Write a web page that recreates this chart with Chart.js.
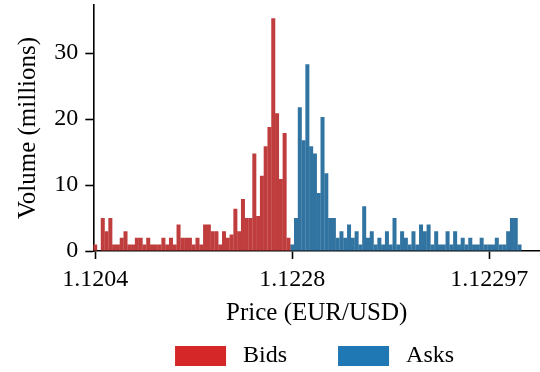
<!DOCTYPE html>
<html>
<head>
<meta charset="utf-8">
<script src="https://cdn.jsdelivr.net/npm/chart.js@4.4.1/dist/chart.umd.min.js"></script>
<style>
  html, body { margin: 0; padding: 0; background: #ffffff; }
  #wrap { width: 540px; height: 372px; }
</style>
</head>
<body>
<div id="wrap"><canvas id="book" width="540" height="372"></canvas></div>
<script>
// Resting order volume per price bin, in millions (bins ordered by price)
const bidVolumes = [
  1, 0, 5, 3, 5, 1, 1, 2, 3, 1,
  1, 2, 2, 1, 2, 1, 1, 1, 2, 1,
  2, 1, 4, 2, 2, 2, 1, 2, 1, 4,
  4, 3, 3, 1, 3, 2, 2.5, 6.4, 3, 7.9,
  5, 5, 14.8, 5.3, 11.4, 15.9, 18.8, 35.3, 20.9, 10.9,
  17.9, 2
];
const askVolumes = [
  1, 5, 21.8, 16.8, 28.3, 15.9, 14.8, 8.8, 20.3, 11.8,
  5, 5, 2, 3, 2, 4, 2, 3, 1, 6.8,
  2, 3, 1, 2, 1, 3, 1, 5, 1, 3,
  2, 1, 3, 1, 4, 3, 4, 1, 3, 1,
  1, 3, 1, 3, 1, 2, 1, 2, 1, 1,
  2, 1, 1, 1, 2, 1, 1, 3, 5, 5,
  1
];
// Price labels shown under selected bins
const tickBins = [0, 52, 104];
const tickLabels = ['1.1204', '1.1228', '1.12297'];
const yTicks = [0, 10, 20, 30];
const seriesNames = ['Bids', 'Asks'];

const barColors = ['#c03d3e', '#3274a1'];
const patchColors = ['#d62728', '#1f77b4'];
const FONT = "'Liberation Serif', 'Times New Roman', serif";

Chart.defaults.font.family = FONT;
Chart.defaults.font.size = 24;
Chart.defaults.color = '#000';

const bidPoints = bidVolumes.map((v, i) => ({ x: i, y: v }));
const askPoints = askVolumes.map((v, i) => ({ x: bidVolumes.length + i, y: v }));

// Legend drawn below the axis title: coloured patch followed by the series name
const bottomLegend = {
  id: 'bottomLegend',
  afterDraw(chart) {
    const { ctx, chartArea } = chart;
    const cx = (chartArea.left + chartArea.right) / 2;
    const cy = chartArea.bottom + 105;
    const slots = [
      { box: cx - 141.6, text: cx - 73.6 },
      { box: cx + 21.4, text: cx + 89.4 }
    ];
    ctx.save();
    chart.data.datasets.forEach((ds, i) => {
      ctx.fillStyle = patchColors[i];
      ctx.fillRect(slots[i].box, cy - 10, 51, 20);
      ctx.fillStyle = '#000';
      ctx.font = '24px ' + FONT;
      ctx.textAlign = 'left';
      ctx.textBaseline = 'middle';
      ctx.fillText(ds.label, slots[i].text, cy);
    });
    ctx.restore();
  }
};

const axisLine = { display: true, color: '#000', width: 1.6 };
const tickGrid = { display: true, offset: false, drawOnChartArea: false, drawTicks: true, tickLength: 8, tickWidth: 1.6, tickColor: '#000' };

new Chart(document.getElementById('book'), {
  type: 'bar',
  data: {
    datasets: [
      { label: seriesNames[0], data: bidPoints, backgroundColor: barColors[0], borderWidth: 0,
        grouped: false, barPercentage: 1.06, categoryPercentage: 1 },
      { label: seriesNames[1], data: askPoints, backgroundColor: barColors[1], borderWidth: 0,
        grouped: false, barPercentage: 1.06, categoryPercentage: 1 }
    ]
  },
  options: {
    responsive: false,
    animation: false,
    devicePixelRatio: 1,
    layout: { padding: { left: 0, right: 0, top: 5, bottom: 44 } },
    plugins: {
      legend: { display: false },
      tooltip: { enabled: false }
    },
    scales: {
      x: {
        type: 'linear',
        min: -0.5,
        max: 117.4,
        offset: false,
        grid: tickGrid,
        border: axisLine,
        afterBuildTicks: (scale) => { scale.ticks = tickBins.map(v => ({ value: v })); },
        ticks: {
          autoSkip: false,
          maxRotation: 0,
          padding: 6,
          color: '#000',
          font: { size: 24 },
          callback: (value) => tickLabels[tickBins.indexOf(value)]
        },
        title: {
          display: true,
          text: 'Price (EUR/USD)',
          color: '#000',
          font: { size: 25 },
          padding: { top: 0, bottom: 0 }
        },
        afterFit: (scale) => {
          scale.height = 77;
          scale.paddingLeft = 0;
          scale.paddingRight = 0;
        }
      },
      y: {
        min: 0,
        max: 37.3,
        grid: tickGrid,
        border: axisLine,
        afterBuildTicks: (scale) => { scale.ticks = yTicks.map(v => ({ value: v })); },
        ticks: {
          padding: 7,
          color: '#000',
          font: { size: 24 }
        },
        title: {
          display: true,
          text: 'Volume (millions)',
          color: '#000',
          font: { size: 25 },
          padding: { top: 13, bottom: 0 }
        },
        afterFit: (scale) => {
          scale.width = 93.3;
          scale.paddingTop = 0;
          scale.paddingBottom = 0;
        }
      }
    }
  },
  plugins: [bottomLegend]
});
</script>
</body>
</html>
